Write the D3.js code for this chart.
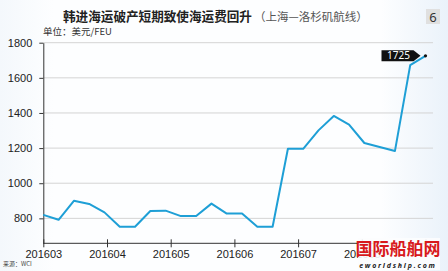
<!DOCTYPE html>
<html>
<head>
<meta charset="utf-8">
<script src="https://cdn.jsdelivr.net/npm/d3@7"></script>
<style>
  html, body { margin: 0; padding: 0; background: #f6f9fc; }
  svg { display: block; }
</style>
</head>
<body>
<div id="main"></div>
<script>
// weekly WCI Shanghai - Los Angeles, USD/FEU
const rates = [820, 792, 900, 882, 834, 752, 752, 842, 844, 813, 813, 884, 827, 827, 752, 752,
               1196, 1196, 1301, 1383, 1333, 1229, 1206, 1183, 1672, 1725];
const months = ["201603", "201604", "201605", "201606", "201607", "201608", "201609"];
const yTicks = [800, 1000, 1200, 1400, 1600, 1800];

const config = {width: 448, height: 271, left: 43.3, right: 425.5, top: 42.7, bottom: 243.3};

const svg = d3.select("#main")
    .append("svg")
    .attr("width", config.width)
    .attr("height", config.height)
    .style("font-family", "'Noto Sans', 'DejaVu Sans', sans-serif");

// background
const grad = svg.append("defs").append("linearGradient").attr("id", "bg").attr("x1", 0).attr("x2", 1);
grad.append("stop").attr("offset", "0%").attr("stop-color", "#f4f8fc");
grad.append("stop").attr("offset", "12%").attr("stop-color", "#fdfeff");
grad.append("stop").attr("offset", "85%").attr("stop-color", "#fdfeff");
grad.append("stop").attr("offset", "100%").attr("stop-color", "#eaf2fa");
svg.append("rect").attr("width", config.width).attr("height", config.height).attr("fill", "url(#bg)");

const xScale = d3.scaleLinear().domain([0, rates.length - 1]).range([config.left, config.right]);
const mScale = d3.scalePoint().domain(months).range([config.left, config.right]);
const yScale = d3.scaleLinear().domain([658, 1800]).range([config.bottom, config.top]);

// grid
svg.append("g")
    .selectAll("line")
    .data(yTicks)
    .join("line")
    .attr("x1", config.left)
    .attr("x2", 433)
    .attr("y1", d => yScale(d))
    .attr("y2", d => yScale(d))
    .attr("stroke", "#d4d4d4")
    .attr("stroke-width", 1);

// y axis
const yAxis = d3.axisLeft(yScale).tickValues(yTicks).tickFormat(d3.format("d"))
    .tickSize(4).tickPadding(7).tickSizeOuter(0);
const gy = svg.append("g")
    .attr("transform", `translate(${config.left},0)`)
    .call(yAxis);
gy.select(".domain").attr("stroke", "#333");
gy.selectAll("line").attr("stroke", "#333");
gy.selectAll("text").attr("font-size", 11).attr("fill", "#222");

// x axis
const xAxis = d3.axisBottom(mScale).tickSize(4).tickPadding(3).tickSizeOuter(0)
    .tickFormat(d => d === "201609" ? "" : d);
const gx = svg.append("g")
    .attr("transform", `translate(0,${config.bottom})`)
    .call(xAxis);
gx.select(".domain").attr("stroke", "#333").attr("d", `M${config.left},0H433`);
gx.selectAll(".tick line").attr("y1", -4).attr("stroke", "#333");
gx.selectAll("text").attr("font-size", 11).attr("fill", "#222");

// line
const line = d3.line().x((d, i) => xScale(i)).y(d => yScale(d));
svg.append("path")
    .datum(rates)
    .attr("d", line)
    .attr("fill", "none")
    .attr("stroke", "#1e9fd6")
    .attr("stroke-width", 2)
    .attr("stroke-linejoin", "round");

// last value callout
const lastI = rates.length - 1;
const lx = xScale(lastI), ly = yScale(rates[lastI]);
svg.append("circle").attr("cx", lx).attr("cy", ly).attr("r", 1.6).attr("fill", "#111");
const bx = lx - 44, bw = 32, bh = 11;
svg.append("path")
    .attr("d", `M${bx},${ly - bh / 2}H${bx + bw}L${bx + bw + 7},${ly}L${bx + bw},${ly + bh / 2}H${bx}Z`)
    .attr("fill", "#111");
svg.append("text")
    .attr("x", bx + bw / 2 + 1)
    .attr("y", ly + 3.6)
    .attr("text-anchor", "middle")
    .attr("font-size", 10)
    .attr("fill", "#fff")
    .text(rates[lastI]);

// titles
const title = svg.append("text")
    .attr("x", 63)
    .attr("y", 21)
    .attr("font-family", "'Noto Sans CJK SC', sans-serif");
title.append("tspan")
    .attr("font-size", 12.6)
    .attr("font-weight", "bold")
    .attr("fill", "#222")
    .text("韩进海运破产短期致使海运费回升");
title.append("tspan")
    .attr("font-size", 11.5)
    .attr("fill", "#555")
    .attr("dx", 2)
    .text("（上海—洛杉矶航线）");

svg.append("rect").attr("x", 426).attr("y", 9).attr("width", 14).attr("height", 15).attr("fill", "#e0e0e0");
svg.append("text").attr("x", 433).attr("y", 21.5).attr("text-anchor", "middle")
    .attr("font-size", 13).attr("fill", "#333").text("6");

svg.append("text")
    .attr("x", 43)
    .attr("y", 35)
    .attr("font-size", 9.5)
    .attr("fill", "#333")
    .attr("font-family", "'Noto Sans CJK SC', sans-serif")
    .text("单位：美元/FEU");

svg.append("text")
    .attr("x", 3)
    .attr("y", 266)
    .attr("font-size", 6)
    .attr("fill", "#444")
    .attr("font-family", "'Noto Sans CJK SC', sans-serif")
    .text("来源：WCI");

// watermark
const wm = svg.append("g");
wm.append("rect").attr("x", 358).attr("y", 238).attr("width", 82).attr("height", 32).attr("fill", "#fcfdfe").attr("opacity", 0.9);
wm.append("text").attr("x", 398).attr("y", 255).attr("text-anchor", "middle")
    .attr("font-size", 17).attr("font-weight", "bold").attr("fill", "#d8191c")
    .attr("font-family", "'Noto Sans CJK SC', sans-serif")
    .text("国际船舶网");
wm.append("text").attr("x", 398).attr("y", 268).attr("text-anchor", "middle")
    .attr("font-size", 7).attr("font-style", "italic").attr("font-weight", "bold").attr("fill", "#222")
    .attr("letter-spacing", 1.8)
    .text("eworldship.com");
</script>
</body>
</html>
